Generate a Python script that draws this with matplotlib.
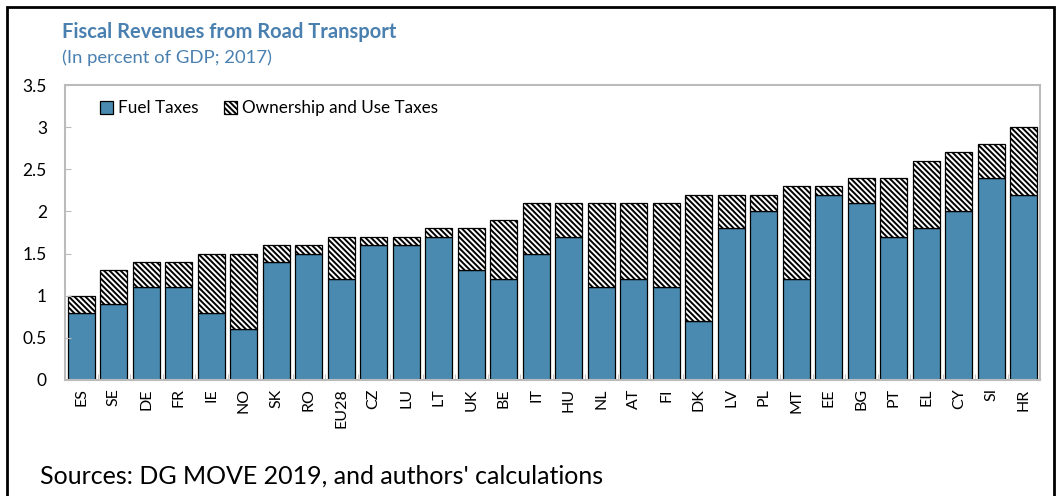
import numpy as np
import matplotlib.pyplot as plt
from matplotlib.patches import Rectangle

plt.rcParams['font.family'] = ['Lato', 'DejaVu Sans']
plt.rcParams['hatch.color'] = '#8c8c8c'
plt.rcParams['hatch.linewidth'] = 1.4

countries = ["ES", "SE", "DE", "FR", "IE", "NO", "SK", "RO", "EU28", "CZ",
             "LU", "LT", "UK", "BE", "IT", "HU", "NL", "AT", "FI", "DK",
             "LV", "PL", "MT", "EE", "BG", "PT", "EL", "CY", "SI", "HR"]
fuel = [0.8, 0.9, 1.1, 1.1, 0.8, 0.6, 1.4, 1.5, 1.2, 1.6,
        1.6, 1.7, 1.3, 1.2, 1.5, 1.7, 1.1, 1.2, 1.1, 0.7,
        1.8, 2.0, 1.2, 2.2, 2.1, 1.7, 1.8, 2.0, 2.4, 2.2]
ownership = [0.2, 0.4, 0.3, 0.3, 0.7, 0.9, 0.2, 0.1, 0.5, 0.1,
             0.1, 0.1, 0.5, 0.7, 0.6, 0.4, 1.0, 0.9, 1.0, 1.5,
             0.4, 0.2, 1.1, 0.1, 0.3, 0.7, 0.8, 0.7, 0.4, 0.8]
yticks = [0, 0.5, 1, 1.5, 2, 2.5, 3, 3.5]
ytick_labels = ["0", "0.5", "1", "1.5", "2", "2.5", "3", "3.5"]

blue = '#4a8ab0'
title_col = '#4a80b0'

fig = plt.figure(figsize=(10.58, 4.96), dpi=100)
ax = fig.add_axes([65/1058, 1 - 380/496, 975/1058, 295/496])

x = np.arange(len(countries))
ax.bar(x, fuel, width=0.84, color=blue, edgecolor='black', linewidth=0.9,
       label='Fuel Taxes')
ax.bar(x, ownership, bottom=fuel, width=0.84, color='white', edgecolor='black',
       linewidth=0.9, hatch='\\' * 6, label='Ownership and Use Taxes')

ax.set_xlim(-0.5, len(countries) - 0.5)
ax.set_ylim(0, 3.5)
ax.set_yticks(yticks)
ax.set_yticklabels(ytick_labels, fontsize=12.5)
ax.set_xticks(x)
ax.set_xticklabels(countries, rotation=90, fontsize=11.5)
ax.tick_params(axis='x', length=0, pad=6)
ax.tick_params(axis='y', direction='in', length=4, color='#bbbbbb', pad=13)
ax.set_xticks(np.arange(-0.5, len(countries)), minor=True)
ax.tick_params(axis='x', which='minor', direction='in', length=4, color='#bbbbbb')
for s in ax.spines.values():
    s.set_color('#bbbbbb')
    s.set_linewidth(1.5)

ax.legend(loc='upper left', ncol=2, frameon=False, fontsize=12.3,
          bbox_to_anchor=(0.02, 1.0), handlelength=0.75, handleheight=0.75,
          handletextpad=0.3, columnspacing=1.5)

fig.text(62/1058, 1 - 32/496, "Fiscal Revenues from Road Transport",
         fontsize=14.5, fontweight='bold', color=title_col, va='center')
fig.text(62/1058, 1 - 58/496, "(In percent of GDP; 2017)",
         fontsize=13.3, color=title_col, va='center')
fig.text(40/1058, 1 - 476/496, "Sources: DG MOVE 2019, and authors' calculations",
         fontsize=18, color='black', va='center')

fig.patches.append(Rectangle((7/1058, -0.05), 1047/1058, 1 - 7/496 + 0.05,
                             transform=fig.transFigure, fill=False,
                             edgecolor='black', linewidth=2))

fig.savefig('out.png', dpi=100)
